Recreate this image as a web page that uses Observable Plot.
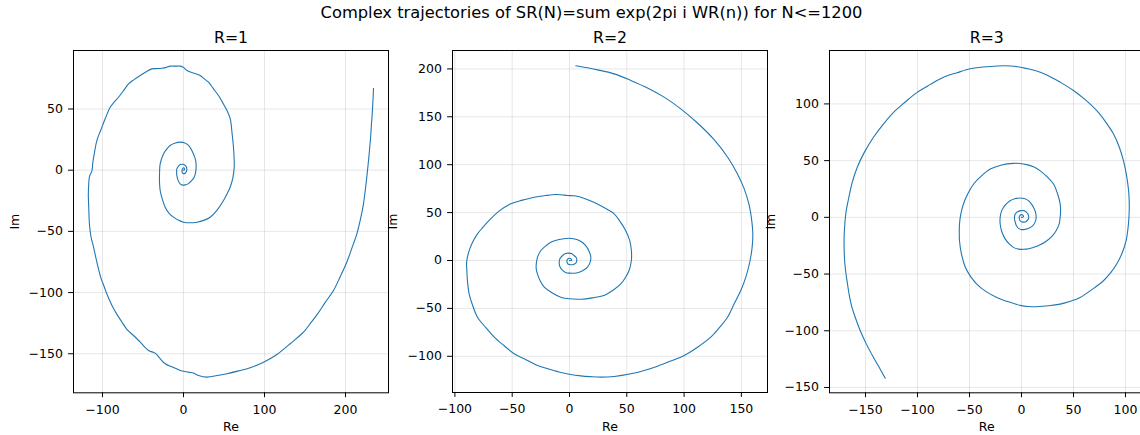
<!DOCTYPE html>
<html><head><meta charset="utf-8">
<script src="https://cdn.jsdelivr.net/npm/d3@7"></script>
<script src="https://cdn.jsdelivr.net/npm/@observablehq/plot@0.6"></script>
<style>
html,body{margin:0;padding:0;background:#fff;overflow:hidden;width:1140px;height:435px;}
#root{position:relative;width:1140px;height:435px;overflow:hidden;font-family:"DejaVu Sans",sans-serif;}
#suptitle{position:absolute;left:0;width:1183px;text-align:center;top:5px;font-size:16.3px;line-height:16.3px;color:#000;white-space:nowrap;}
</style></head><body>
<div id="root"><div id="suptitle">Complex trajectories of SR(N)=sum exp(2pi i WR(n)) for N&lt;=1200</div></div>
<script>
// ---- data ----
const r1Re = [0,1,1.2,0.2,-1,-1.8,-1.5,0,2,3.6,4.1,3.5,1.5,-1,-4.1,-6.5,-8.2,-8.5,-8.2,-6.5,-4.1,-1,2,6,10,13.2,15,15.6,15,12.3,6.2,1,-4.1,-10,-16.5,-21,-24.7,-28.8,-29.6,-29.6,-28.8,-26,-22.6,-18,-12.3,-6,0,8,16.5,25,32.9,41,49.4,54,57.6,61,62.6,62.5,61.7,60,57.7,53.6,48.5,43.2,37,30.9,25,20.6,12,4.2,0,-4.1,-10,-16.4,-21,-26.7,-33,-39,-46,-53.5,-61,-67.9,-74,-80.2,-85,-90.5,-96.7,-102,-107,-110,-112,-113,-116,-117,-117.5,-117,-116,-114,-111,-107,-102,-98,-94.7,-88,-82,-76,-69.9,-61,-53.5,-43.2,-35,-28.8,-22.6,-13,-4.1,6.2,12.3,18.5,28.9,40,53.6,68,82.3,98.8,115.3,131.7,148.1,158,166,175,185.2,193.5,201.6,208,214,218.5,222.2,224.5,226.3,228,229.6,231,232.1,233,233.7,234.2,234.6];
const r1Im = [0,0.3,1.3,2,1.4,0,-1.8,-2.8,-2.5,-1,0.5,2.8,4.3,4.8,4.6,3,1.1,-1.5,-4.4,-8.5,-11.2,-12.2,-12,-11,-8.5,-5.7,-1.5,2.5,8,13.3,20.2,22.5,22.9,22.2,20.2,17,13.3,5.2,-3,-10,-16.6,-24,-30.2,-35,-38.4,-41,-42.5,-43,-42.5,-41,-38.4,-33,-24.8,-19,-13.9,-6,2.5,10,18.8,30,42,48.8,55,61,66.5,71.9,75,77.4,79.5,81.5,84,85,85,85,84,83.3,83,82.8,80.5,77.4,74,70.6,65,59.6,56,51.5,42,33,24.2,14,6,-0.3,-5,-11.2,-20,-30.2,-45,-55,-63,-75,-88,-95,-101,-111,-118,-124,-130,-135.5,-140.5,-147.3,-149.5,-154,-158.2,-161,-163.6,-165,-165.8,-167.7,-169.1,-168,-166.3,-164,-161.4,-156.9,-150.6,-141.8,-132.4,-124,-117,-108,-98.3,-87,-75.2,-63.5,-52,-40,-27.5,-16,-5.7,5,16.1,27,37.9,46,54.2,60.5,67];

const r2Re = [0,1.7,1.3,0,-1.6,-2.3,-1.6,-0.3,3.5,5.7,6.4,5.8,4,1.8,-0.3,-3.5,-6,-8.3,-9,-8.3,-6,-3,-0.3,4,8.4,12.5,15.7,18,18.6,17,14,10.5,7,2,-3.2,-10,-16.3,-21,-25,-28,-29,-29,-28,-25.5,-22,-15,-7.6,0,10,20,30,38,44.8,49,52,54,54,52.5,49,44.5,39,32,24.4,17,10,4,-1.7,-7,-11.9,-21,-30.8,-41,-51.2,-62,-71.6,-76,-80.3,-85,-88.4,-89.8,-89.6,-89,-87.6,-84.5,-80.3,-73,-65.7,-57,-48.3,-38,-27.9,-17.5,-7.6,1,9.9,18,27.3,39,53.5,65.2,76.8,88.4,100,111.7,123.3,130.6,137.9,143.7,149.5,153.9,157.6,159.4,160,159.1,156.8,152.4,146.6,137.9,126.2,111.7,97.1,82.6,68.1,53.5,39,24.4,5.5];
const r2Im = [0,0,1.8,2.4,1.5,-0.7,-3.3,-4.2,-4.2,-2.5,0,3.2,5.2,7.2,7.7,7.2,5.2,2,-1.7,-6.5,-10.4,-12.8,-13.2,-13.3,-12.2,-10,-7,-2,3.5,10,15.7,19.5,21.6,23,23,21.6,19,15,10.4,3,-3.5,-9,-14,-21.5,-27.8,-34,-38.3,-40,-40.4,-39,-36.5,-31,-24.4,-17.5,-10.4,0,10.4,21,31.3,40,48.7,54,59,63,66,67.5,67.8,68.6,68.9,67.8,66.1,63,59.2,51,40,34,27.8,18,7,-2,-10.4,-22,-34.8,-47,-59.2,-70,-80,-89,-97.4,-103.5,-109.6,-113.5,-116.9,-119,-120.4,-121.2,-121.8,-121.1,-118.3,-114.8,-110.3,-105,-99.2,-90.5,-80,-70.3,-59.2,-45.2,-31.3,-17.4,0,13.9,27.8,41.1,57.8,75,90.3,108,126.1,143.5,158.3,170.5,180.1,187.9,194.8,199,203.2];

const r3Re = [0,1.9,1.2,-0.3,-1.8,-2.2,-1.5,0,2.5,4.2,6.2,7,6.5,5,2.3,-0.6,-3.8,-6,-6.8,-6,-4.8,-2.9,0,3.5,7.5,10.9,13.2,14.1,13.8,13,10.3,6.7,2.5,-1.9,-6.5,-10.9,-15.5,-19,-20.5,-20.5,-19,-15.7,-12,-7.7,-3,2,7,11.5,18,24.4,29.5,33.3,36.2,37.2,37.6,37.2,34.6,30.8,25,18,11.5,5,-1.5,-7.7,-19,-30,-38.5,-46,-51.5,-55.8,-58.3,-59.6,-59.8,-59.6,-57.7,-54,-49,-43,-34,-23.7,-12.5,-1.3,6.5,14.7,26,37.2,47,56.4,68,78.8,86,91.7,97,100.6,102.5,103.5,103.6,103,101,98,94,88.5,81,72.4,61.5,50,37.5,24.4,13,2,-10,-23.7,-37,-49.4,-62,-75,-88,-100.6,-112,-123,-133,-142.3,-151,-158,-163,-166,-168.5,-169.6,-170.5,-170.5,-169.5,-167.3,-165.5,-163,-159.5,-155,-149,-142.3,-137,-131];
const r3Im = [0,0.6,2,2.4,1.2,-0.6,-2.8,-3.8,-4.2,-3.8,-2.3,-0.6,2.3,4.4,5.9,5.9,5,2.9,-0.8,-4.4,-7.5,-9.7,-10.8,-10.6,-9.5,-7.4,-4,0,3,5.9,10.8,14.7,16.6,17,16.4,14.7,11,5.9,0,-5.9,-12.5,-19,-23.2,-26.5,-28,-28.2,-27.7,-26.5,-24.2,-20.6,-16.5,-11.8,-6,0,6,11.8,21,29.4,35.5,41,44.5,46.5,47.5,47.6,46.2,42.6,36.5,29.4,21,11.8,3,-5.9,-13,-20.6,-32.5,-44,-52,-58.8,-65.5,-70.6,-74.5,-77.6,-78.6,-78.8,-78,-76.5,-74,-70.6,-63.5,-55.9,-48.5,-41,-31,-20.6,-9,2.9,13,23.5,37,50,62,73.5,84,94,103.5,111.8,119,125.6,129.5,131.8,133.5,133.5,132.5,131,127.5,123.5,117,110,101.5,92.6,82,70.6,57.5,44,30,17.6,6,-2.9,-16,-29.4,-44,-58.8,-69,-79.4,-89,-100,-112,-123.5,-132,-141.8];

const titles = ["R=1", "R=2", "R=3"];
const xTicks = [[-100, 0, 100, 200], [-100, -50, 0, 50, 100, 150], [-150, -100, -50, 0, 50, 100]];
const yTicks = [[-150, -100, -50, 0, 50], [-100, -50, 0, 50, 100, 150, 200], [-150, -100, -50, 0, 50, 100]];

// ---- layout / scale settings ----
const panels = [
  {re: r1Re, im: r1Im, xDomain: [-135.8, 253.1], yDomain: [-181.9, 97.8], frameLeft: 73.3, frameRight: 388.3, frameBottom: 392.3, imX: 15},
  {re: r2Re, im: r2Im, xDomain: [-102.1, 172.8], yDomain: [-137.8, 219.2], frameLeft: 451.7, frameRight: 766.7, frameBottom: 392, imX: 392},
  {re: r3Re, im: r3Im, xDomain: [-184.6, 117.8], yDomain: [-154.7, 147.1], frameLeft: 829.3, frameRight: 1143.8, frameBottom: 392.3, imX: 771}
];

const root = document.getElementById("root");
const fmt = d => d < 0 ? "\u2212" + Math.abs(d) : String(d);

panels.forEach((p, k) => {
  const data = p.re.map((x, i) => ({x, y: p.im[i]}));
  const mL = 70, mR = 12, mT = 50, H = 435;
  const W = (p.frameRight - p.frameLeft) + mL + mR;
  const svg = Plot.plot({
    width: W, height: H,
    marginLeft: mL, marginRight: mR, marginTop: mT, marginBottom: H - p.frameBottom,
    x: {domain: p.xDomain},
    y: {domain: p.yDomain},
    style: {fontFamily: "DejaVu Sans", fontSize: "12.5px", color: "#000", background: "transparent", overflow: "visible", maxWidth: "none"},
    marks: [
      Plot.gridX(xTicks[k], {stroke: "#b0b0b0", strokeOpacity: 0.3, strokeWidth: 1}),
      Plot.gridY(yTicks[k], {stroke: "#b0b0b0", strokeOpacity: 0.3, strokeWidth: 1}),
      Plot.line(data, {x: "x", y: "y", stroke: "#1f77b4", strokeWidth: 1.1, curve: "catmull-rom"}),
      Plot.frame({stroke: "#000", strokeWidth: 1}),
      Plot.axisX(xTicks[k], {tickSize: 4.9, tickPadding: 7, tickFormat: fmt, label: null, stroke: "#000", fill: "#000", fontSize: 12.5}),
      Plot.axisY(yTicks[k], {tickSize: 4.9, tickPadding: 5.7, tickFormat: fmt, label: null, stroke: "#000", fill: "#000", fontSize: 12.5}),
      Plot.text([titles[k]], {frameAnchor: "top", dy: -7.7, text: d => d, fontSize: 15.7, lineAnchor: "bottom", fill: "#000"}),
      Plot.text(["Re"], {frameAnchor: "bottom", dy: 34.4, text: d => d, fontSize: 12.5, lineAnchor: "middle", fill: "#000"}),
      Plot.text(["Im"], {frameAnchor: "left", dx: p.imX - p.frameLeft, rotate: -90, textAnchor: "middle", lineAnchor: "middle", text: d => d, fontSize: 12.5, fill: "#000"})
    ]
  });
  svg.style.position = "absolute";
  svg.style.left = (p.frameLeft - mL) + "px";
  svg.style.top = "0px";
  root.appendChild(svg);
});
</script>
</body></html>
